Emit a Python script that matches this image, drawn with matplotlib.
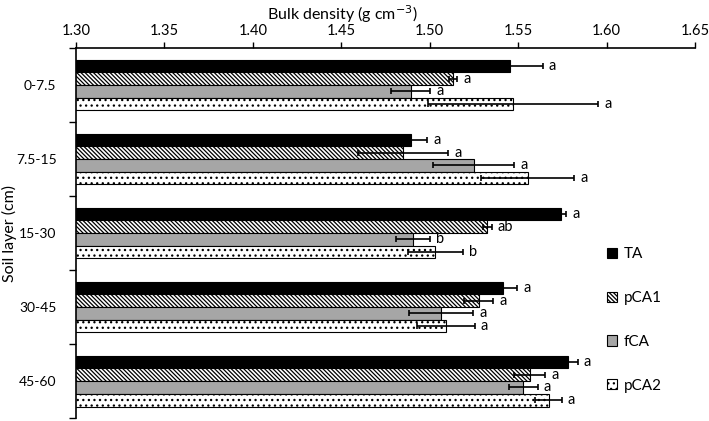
import matplotlib
matplotlib.use("Agg")
import matplotlib.pyplot as plt
import numpy as np

plt.rcParams['font.family'] = ['Lato', 'DejaVu Sans']
plt.rcParams['hatch.linewidth'] = 0.9

layers = ['0-7.5', '7.5-15', '15-30', '30-45', '45-60']
treatments = ['TA', 'pCA1', 'fCA', 'pCA2']

# bulk density means and error (per layer, per treatment)
means = {
    'TA':   [1.5456, 1.4896, 1.5743, 1.5417, 1.5780],
    'pCA1': [1.5131, 1.4849, 1.5326, 1.5277, 1.5565],
    'fCA':  [1.4892, 1.5248, 1.4905, 1.5063, 1.5528],
    'pCA2': [1.5470, 1.5554, 1.5032, 1.5092, 1.5672],
}
errors = {
    'TA':   [0.0182, 0.0090, 0.0027, 0.0078, 0.0057],
    'pCA1': [0.0023, 0.0255, 0.0024, 0.0083, 0.0088],
    'fCA':  [0.0109, 0.0231, 0.0094, 0.0182, 0.0082],
    'pCA2': [0.0481, 0.0262, 0.0154, 0.0163, 0.0075],
}
letters = {
    'TA':   ['a', 'a', 'a', 'a', 'a'],
    'pCA1': ['a', 'a', 'ab', 'a', 'a'],
    'fCA':  ['a', 'a', 'b', 'a', 'a'],
    'pCA2': ['a', 'a', 'b', 'a', 'a'],
}

styles = {
    'TA':   dict(color='black', hatch=None),
    'pCA1': dict(color='white', hatch='\\\\\\\\\\\\\\\\'),
    'fCA':  dict(color='#a6a6a6', hatch=None),
    'pCA2': dict(color='white', hatch='...'),
}


def main():
    fig = plt.figure(figsize=(7.09, 4.21), dpi=100)
    ax = fig.add_axes([0.1072, 0.007, 0.873, 0.879])

    y = np.arange(len(layers))
    h = 0.172
    for i, t in enumerate(treatments):
        pos = y + (i - 1.5) * h
        st = styles[t]
        ax.barh(pos, means[t], height=h, left=0, color=st['color'], hatch=st['hatch'],
                edgecolor='black', linewidth=0.8, label=t, zorder=2)
        ax.errorbar(means[t], pos, xerr=errors[t], fmt='none', ecolor='black',
                    elinewidth=1.2, capsize=2.5, capthick=1.2, zorder=3)
        for m, e, p, lab in zip(means[t], errors[t], pos, letters[t]):
            ax.text(m + e + 0.0035, p, lab, ha='left', va='center', fontsize=10.5)

    ax.set_xlim(1.30, 1.65)
    ax.set_ylim(len(layers) - 0.5, -0.5)
    ax.set_xticks(np.arange(1.30, 1.651, 0.05))
    ax.set_xticklabels(['{:.2f}'.format(v) for v in np.arange(1.30, 1.651, 0.05)], fontsize=10.5)
    ax.xaxis.tick_top()
    ax.xaxis.set_label_position('top')
    ax.set_xlabel('Bulk density (g cm$^{-3}$)', fontsize=11.5)
    ax.xaxis.set_label_coords(0.431, 1.0 + 28 / 370)
    ax.tick_params(axis='x', direction='out', length=4, width=1, pad=3)

    ax.set_yticks(np.arange(-0.5, len(layers), 1.0))
    ax.set_yticklabels([])
    ax.set_yticks(y, minor=True)
    ax.set_yticklabels(layers, minor=True, fontsize=10)
    ax.tick_params(axis='y', which='major', direction='out', length=5, width=1)
    ax.tick_params(axis='y', which='minor', length=0, pad=14)
    ax.set_ylabel('Soil layer (cm)', fontsize=11.5)
    ax.yaxis.set_label_coords(-59 / 619, 0.5)

    ax.spines['right'].set_visible(False)
    ax.spines['bottom'].set_visible(False)
    ax.spines['top'].set_linewidth(1.2)
    ax.spines['left'].set_linewidth(1.2)

    ax.legend(loc='center left', bbox_to_anchor=(0.845, 0.240), bbox_transform=fig.transFigure,
              frameon=False, fontsize=11, handlelength=0.65, handleheight=0.65,
              handletextpad=0.45, labelspacing=1.95, borderpad=0)

    fig.savefig('out.png', dpi=100)
    plt.close(fig)


if __name__ == "__main__":
    main()
